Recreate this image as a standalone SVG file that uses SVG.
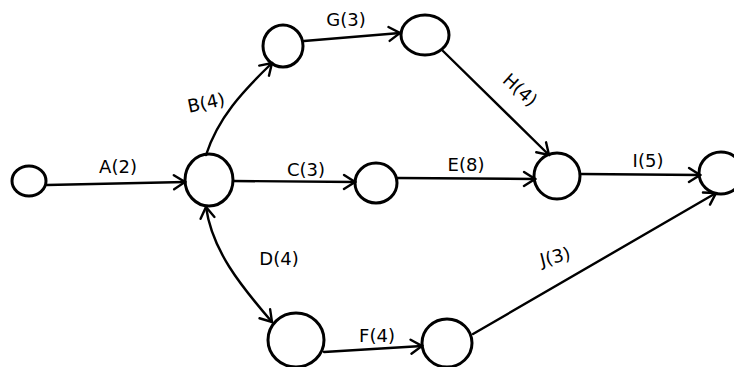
<svg xmlns="http://www.w3.org/2000/svg" width="734" height="367" viewBox="0 0 734 367">
<defs>
<style>
.node{fill:none;stroke:#000;stroke-width:3}
.edge{fill:none;stroke:#000;stroke-width:2.4;stroke-linecap:round}
.lbl{font-family:"DejaVu Sans","Liberation Sans",sans-serif;font-size:18px;fill:#000}
</style>
<marker id="ah" markerUnits="userSpaceOnUse" viewBox="-13 -9 15 18" refX="0" refY="0" markerWidth="15" markerHeight="18" orient="auto-start-reverse">
<path d="M-11,-7 L0,0 L-11,7" fill="none" stroke="#000" stroke-width="2.4" stroke-linecap="round"/>
</marker>
</defs>
<rect width="734" height="367" fill="#fff"/>
<g id="connectors">
<path id="eA" class="edge" d="M47,185 L185,182" marker-end="url(#ah)"/>
<path id="eB" class="edge" d="M206,155 C218,118 242,92 272,63" marker-end="url(#ah)"/>
<path id="eG" class="edge" d="M304,41 L400,33" marker-end="url(#ah)"/>
<path id="eH" class="edge" d="M443,51 L549,155" marker-end="url(#ah)"/>
<path id="eC" class="edge" d="M233,181 L355,182" marker-end="url(#ah)"/>
<path id="eE" class="edge" d="M397,178 L535,179" marker-end="url(#ah)"/>
<path id="eI" class="edge" d="M581,174 L700,175" marker-end="url(#ah)"/>
<path id="eD" class="edge" d="M206,207 C212,250 240,285 272,322" marker-start="url(#ah)" marker-end="url(#ah)"/>
<path id="eF" class="edge" d="M324,352 L422,346" marker-end="url(#ah)"/>
<path id="eJ" class="edge" d="M473,334 L716,193" marker-end="url(#ah)"/>
</g>
<g id="n1"><ellipse class="node" cx="29" cy="181" rx="17" ry="15"/></g>
<g id="n2"><ellipse class="node" cx="209" cy="180" rx="24" ry="26"/></g>
<g id="n3"><ellipse class="node" cx="283" cy="46" rx="20" ry="21"/></g>
<g id="n4"><ellipse class="node" cx="425" cy="35" rx="24" ry="20"/></g>
<g id="n5"><ellipse class="node" cx="376" cy="183" rx="21" ry="20"/></g>
<g id="n6"><ellipse class="node" cx="557" cy="176" rx="23" ry="23"/></g>
<g id="n7"><ellipse class="node" cx="721" cy="173" rx="22" ry="21"/></g>
<g id="n8"><ellipse class="node" cx="296" cy="340" rx="28" ry="27"/></g>
<g id="n9"><ellipse class="node" cx="447" cy="343" rx="25" ry="24"/></g>
<g id="labels">
<text class="lbl" x="118" y="173" text-anchor="middle">A(2)</text>
<text class="lbl" x="206" y="109" text-anchor="middle" transform="rotate(-12 206 102)">B(4)</text>
<text class="lbl" x="346" y="26" text-anchor="middle">G(3)</text>
<text class="lbl" x="520" y="96" text-anchor="middle" transform="rotate(42 520 90)">H(4)</text>
<text class="lbl" x="306" y="176" text-anchor="middle">C(3)</text>
<text class="lbl" x="466" y="171" text-anchor="middle">E(8)</text>
<text class="lbl" x="648" y="167" text-anchor="middle">I(5)</text>
<text class="lbl" x="279" y="265" text-anchor="middle">D(4)</text>
<text class="lbl" x="377" y="342" text-anchor="middle">F(4)</text>
<text class="lbl" x="555" y="263" text-anchor="middle" transform="rotate(-14 555 256)">J(3)</text>
</g>
</svg>
